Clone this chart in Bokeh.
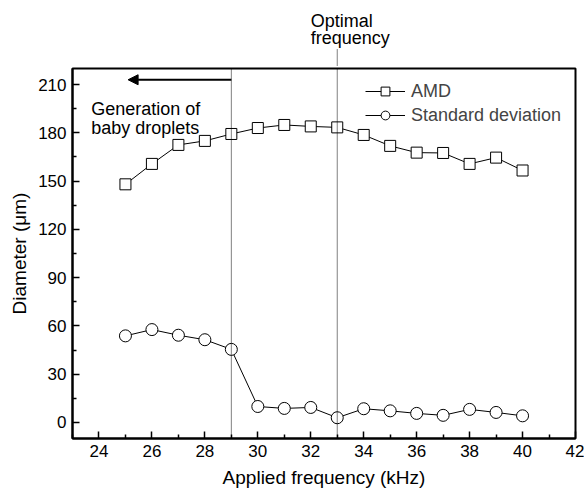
from bokeh.plotting import figure
from bokeh.layouts import column
from bokeh.models import (Range1d, FixedTicker, Span, Arrow, NormalHead, Label,
                          Legend, LegendItem)
from bokeh.embed import file_html
from bokeh.resources import INLINE

freq = [25, 26, 27, 28, 29, 30, 31, 32, 33, 34, 35, 36, 37, 38, 39, 40]
amd = [148, 160.7, 172.5, 175, 179.3, 183, 184.9, 184, 183.4, 178.7, 171.9, 167.7, 167.5, 160.7, 164.6, 156.6]
std_dev = [53.8, 57.7, 54.2, 51.4, 45.4, 9.9, 8.7, 9.3, 2.9, 8.5, 7.2, 5.6, 4.4, 8.1, 6.2, 4.1]
x_ticks = [24, 26, 28, 30, 32, 34, 36, 38, 40, 42]
x_minor = [23, 25, 27, 29, 31, 33, 35, 37, 39, 41]
y_ticks = [0, 30, 60, 90, 120, 150, 180, 210]
y_minor = [-15, 15, 45, 75, 105, 135, 165, 195]

FONT = "Liberation Sans"
xr = Range1d(23, 42)

# ---- strip above the frame: "Optimal frequency" note ----
top = figure(width=584, height=66, output_backend="svg", toolbar_location=None,
             x_range=xr, y_range=Range1d(0, 66), x_axis_location=None, y_axis_location=None,
             min_border_left=72, min_border_right=9, min_border_top=0, min_border_bottom=0)
top.grid.visible = False
top.outline_line_color = None
top.add_layout(Arrow(end=None, x_start=33, y_start=0, x_end=33, y_end=17,
                     line_color="black", line_width=1, line_dash="1 1"))
top.add_layout(Label(x=32.0, y=45.3, text="Optimal", text_font=FONT, text_font_size="18px",
                     text_color="black", text_baseline="alphabetic"))
top.add_layout(Label(x=32.0, y=28.7, text="frequency", text_font=FONT, text_font_size="18px",
                     text_color="black", text_baseline="alphabetic"))

# ---- main plot ----
p = figure(width=584, height=428, output_backend="svg", toolbar_location=None,
           x_range=xr, y_range=Range1d(-10, 220),
           min_border_left=72, min_border_right=9, min_border_top=2, min_border_bottom=56)
p.grid.visible = False
p.outline_line_color = "black"
p.outline_line_width = 2

for ax in (p.xaxis[0], p.yaxis[0]):
    ax.axis_line_width = 2
    ax.major_tick_in = 7
    ax.major_tick_out = 0
    ax.minor_tick_in = 4
    ax.minor_tick_out = 0
    ax.major_tick_line_width = 1.5
    ax.minor_tick_line_width = 1.5
    ax.major_label_text_font = FONT
    ax.major_label_text_font_size = "17px"
    ax.major_label_text_color = "black"
    ax.axis_label_text_font = FONT
    ax.axis_label_text_font_size = "19px"
    ax.axis_label_text_font_style = "normal"
    ax.axis_label_text_color = "black"

p.xaxis.ticker = FixedTicker(ticks=x_ticks, minor_ticks=x_minor)
p.yaxis.ticker = FixedTicker(ticks=y_ticks, minor_ticks=y_minor)
p.xaxis.axis_label = "Applied frequency (kHz)"
p.yaxis.axis_label = "Diameter (\u03bcm)"
p.xaxis.major_label_standoff = 6
p.xaxis.axis_label_standoff = 7
p.yaxis.major_label_standoff = 6
p.yaxis.axis_label_standoff = 5

p.add_layout(Span(location=29, dimension="height", line_color="black",
                  line_width=1, line_dash="1 1"))
p.add_layout(Span(location=33, dimension="height", line_color="black",
                  line_width=1, line_dash="1 1"))
p.add_layout(Arrow(end=NormalHead(size=10, fill_color="black", line_color="black"),
                   x_start=29, y_start=213, x_end=25.1, y_end=213,
                   line_color="black", line_width=2))

l1 = p.line(freq, amd, line_color="black", line_width=1)
s1 = p.scatter(freq, amd, marker="square", size=11, fill_color="white",
               line_color="black", line_width=1)
l2 = p.line(freq, std_dev, line_color="black", line_width=1)
s2 = p.scatter(freq, std_dev, marker="circle", size=12, fill_color="white",
               line_color="black", line_width=1)

legend = Legend(items=[LegendItem(label="AMD", renderers=[l1, s1]),
                       LegendItem(label="Standard deviation", renderers=[l2, s2])],
                location=(293, 312), border_line_color=None, background_fill_alpha=0,
                glyph_width=40, glyph_height=22, label_standoff=6, spacing=2,
                padding=0, margin=0, label_text_font=FONT, label_text_font_size="18px",
                label_height=22)
p.add_layout(legend)

for txt, x, y in [("Generation of", 23.71, 194.7), ("baby droplets", 23.71, 182.8)]:
    p.add_layout(Label(x=x, y=y, text=txt, text_font=FONT, text_font_size="18px",
                       text_color="black", text_baseline="alphabetic", text_align="left"))

layout = column(top, p, spacing=0)
open("out.html", "w").write(file_html(layout, INLINE))
